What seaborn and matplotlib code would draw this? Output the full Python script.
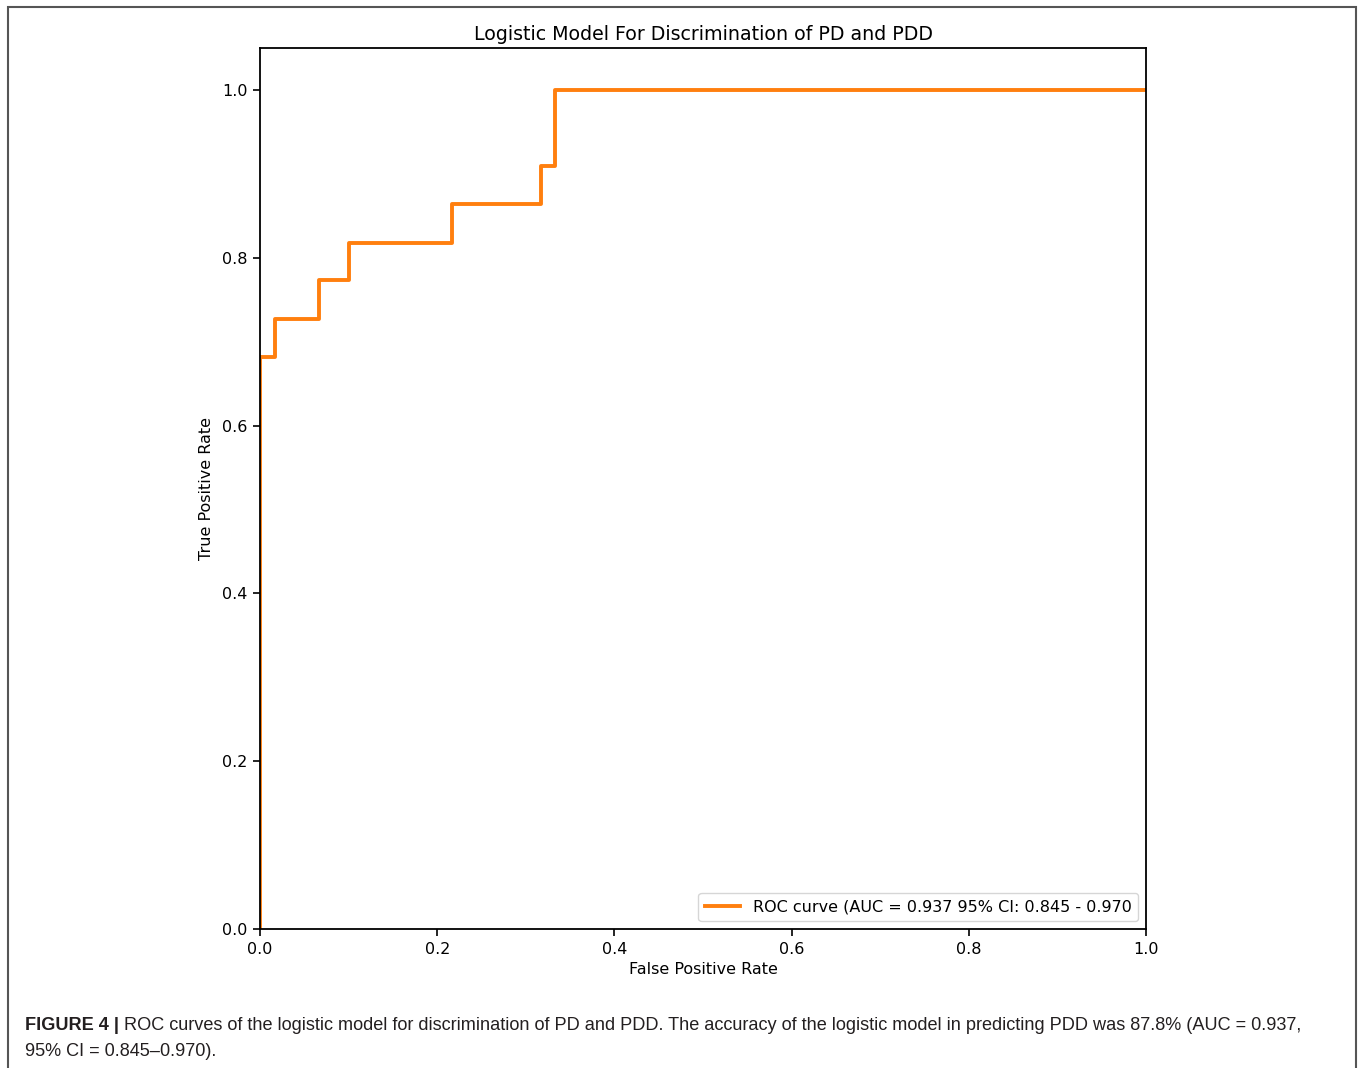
import matplotlib
matplotlib.use("Agg")
import matplotlib.pyplot as plt
import seaborn as sns
import pandas as pd
from matplotlib.patches import Rectangle

# ROC curve points
fpr = [0.0, 0.0, 0.0167, 0.0167, 0.0667, 0.0667, 0.1, 0.1, 0.2167, 0.2167, 0.3167, 0.3167, 0.3333, 0.3333, 1.0]
tpr = [0.0, 0.682, 0.682, 0.727, 0.727, 0.773, 0.773, 0.818, 0.818, 0.864, 0.864, 0.909, 0.909, 1.0, 1.0]
legend_label = "ROC curve (AUC = 0.937 95% CI: 0.845 - 0.970"
title = "Logistic Model For Discrimination of PD and PDD"
xlabel = "False Positive Rate"
ylabel = "True Positive Rate"
caption_bold = "FIGURE 4 | "
caption_line1 = "ROC curves of the logistic model for discrimination of PD and PDD. The accuracy of the logistic model in predicting PDD was 87.8% (AUC = 0.937,"
caption_line2 = "95% CI = 0.845\u20130.970)."

df = pd.DataFrame({"fpr": fpr, "tpr": tpr})

W, H = 1360, 1068
fig = plt.figure(figsize=(W / 100, H / 100), dpi=100)
ax = fig.add_axes([260 / W, 1 - 929 / H, (1146 - 260) / W, (929 - 48) / H])

sns.lineplot(data=df, x="fpr", y="tpr", sort=False, estimator=None, ax=ax,
             color="#ff7f0e", lw=2.8, label=legend_label)

ax.set_xlim(0, 1.0)
ax.set_ylim(0, 1.05)
ax.set_xticks([0, 0.2, 0.4, 0.6, 0.8, 1.0])
ax.set_yticks([0, 0.2, 0.4, 0.6, 0.8, 1.0])
ax.tick_params(labelsize=11.5, length=5, width=1.2, pad=4)
for s in ax.spines.values():
    s.set_linewidth(1.3)
ax.set_xlabel(xlabel, fontsize=11.5, labelpad=4)
ax.set_ylabel(ylabel, fontsize=11.5, labelpad=6)
ax.set_title(title, fontsize=13.7, pad=6)
leg = ax.legend(loc="lower right", fontsize=11.5, handlelength=2.2, framealpha=0.8)

# outer frame
fig.patches.append(Rectangle((8 / W, -0.01), (1356 - 8) / W, 1 - 7 / H + 0.01,
                             transform=fig.transFigure, fill=False,
                             edgecolor="#555555", lw=1.5))

cap_font = ["Liberation Sans", "DejaVu Sans"]
cap_size = 13.1
t1 = fig.text(25 / W, 1 - 1030 / H, caption_bold, fontsize=cap_size, fontweight="bold",
              family=cap_font, color="#231f20", va="baseline")
fig.canvas.draw()
bb = t1.get_window_extent(renderer=fig.canvas.get_renderer())
fig.text(bb.x1 / W, 1 - 1030 / H, caption_line1, fontsize=cap_size,
         family=cap_font, color="#231f20", va="baseline")
fig.text(25 / W, 1 - 1056 / H, caption_line2, fontsize=cap_size,
         family=cap_font, color="#231f20", va="baseline")

fig.savefig("out.png", dpi=100)
